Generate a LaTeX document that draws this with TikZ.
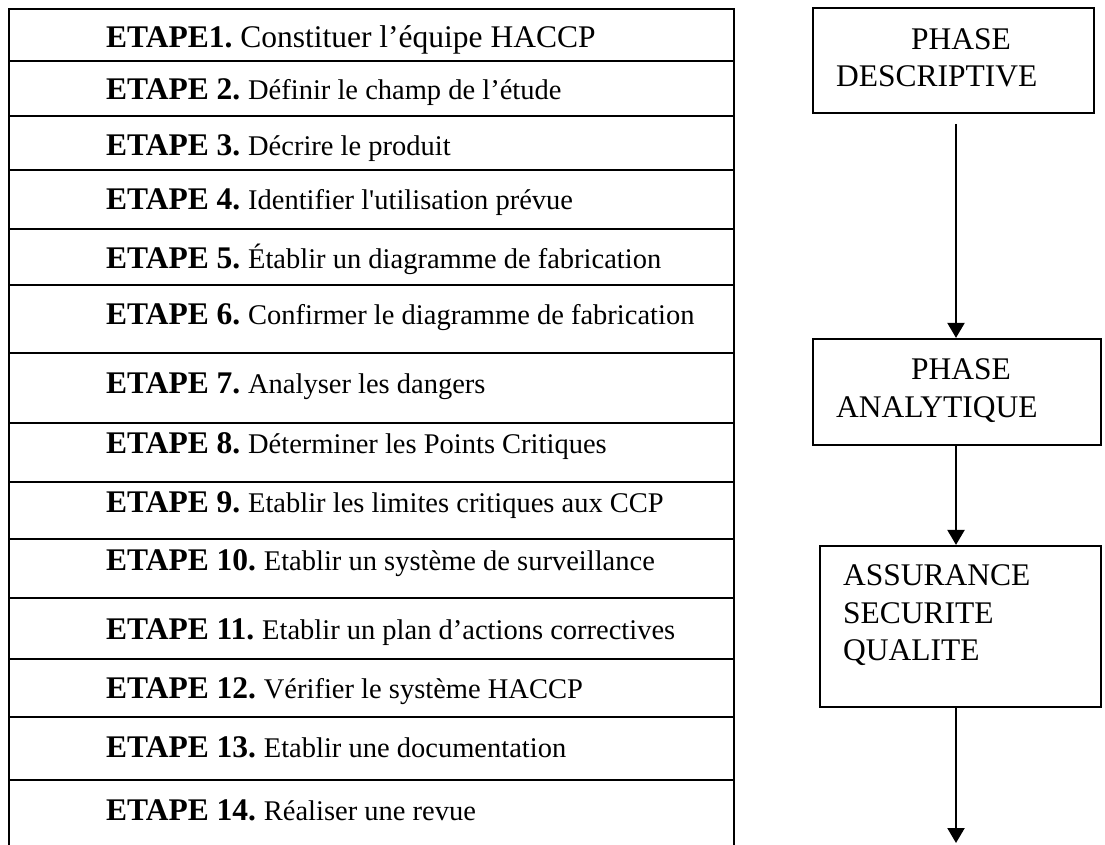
\documentclass[tikz,border=0pt]{standalone}
\usepackage{fontspec}
\newfontfamily\tms{Liberation Serif}
\usetikzlibrary{arrows.meta}
\newcommand\etpline[3]{{\fontsize{31.5}{36}\selectfont\bfseries #1\ }{\fontsize{#3}{34}\selectfont #2}}
\begin{document}
\begin{tikzpicture}[x=1pt,y=-1pt,line width=2.2pt,
  rowtext/.style={anchor=base west,inner sep=0pt,font=\tms},
  phasebox/.style={draw,line width=2.2pt,inner sep=0pt},
  phasetext/.style={anchor=base west,inner sep=0pt,font=\tms\fontsize{31.5}{37}\selectfont},
  arr/.style={line width=2.2pt,-{Triangle[width=17pt,length=15pt]}}]
\useasboundingbox (0,0) rectangle (1105,845);
% table
\draw (9,845) -- (9,9) -- (734,9) -- (734,845);
\foreach \yy in {61,116,170,229,285,353,423,482,539,598,659,717,780}
  \draw (9,\yy) -- (734,\yy);
\node[rowtext] (e1) at (105,48) {\etpline{ETAPE1.}{Constituer l’équipe HACCP}{31.5}};
\node[rowtext] (e2) at (105,100) {\etpline{ETAPE 2.}{Définir le champ de l’étude}{28.5}};
\node[rowtext] (e3) at (105,156) {\etpline{ETAPE 3.}{Décrire le produit}{28.5}};
\node[rowtext] (e4) at (105,210) {\etpline{ETAPE 4.}{Identifier l'utilisation prévue}{28.5}};
\node[rowtext] (e5) at (105,268) {\etpline{ETAPE 5.}{Établir un diagramme de fabrication}{28.5}};
\node[rowtext] (e6) at (105,324) {\etpline{ETAPE 6.}{Confirmer le diagramme de fabrication}{28.5}};
\node[rowtext] (e7) at (105,393) {\etpline{ETAPE 7.}{Analyser les dangers}{28.5}};
\node[rowtext] (e8) at (105,453) {\etpline{ETAPE 8.}{Déterminer les Points Critiques}{28.5}};
\node[rowtext] (e9) at (105,512) {\etpline{ETAPE 9.}{Etablir les limites critiques aux CCP}{28.5}};
\node[rowtext] (e10) at (105,570) {\etpline{ETAPE 10.}{Etablir un système de surveillance}{28.5}};
\node[rowtext] (e11) at (105,639) {\etpline{ETAPE 11.}{Etablir un plan d’actions correctives}{28.5}};
\node[rowtext] (e12) at (105,698) {\etpline{ETAPE 12.}{Vérifier le système HACCP}{28.5}};
\node[rowtext] (e13) at (105,757) {\etpline{ETAPE 13.}{Etablir une documentation}{28.5}};
\node[rowtext] (e14) at (105,820) {\etpline{ETAPE 14.}{Réaliser une revue}{28.5}};
% phase boxes
\node[phasebox,minimum width=281pt,minimum height=105pt] (p1) at (953.5,60.5) {};
\node[phasebox,minimum width=288pt,minimum height=106pt] (p2) at (957,392) {};
\node[phasebox,minimum width=281pt,minimum height=161pt] (p3) at (960.5,626.5) {};
\node[phasetext] (t1a) at (910,50) {PHASE};
\node[phasetext] (t1b) at (835,87) {DESCRIPTIVE};
\node[phasetext] (t2a) at (910,379) {PHASE};
\node[phasetext] (t2b) at (835,417) {ANALYTIQUE};
\node[phasetext] (t3a) at (842,585) {ASSURANCE};
\node[phasetext] (t3b) at (842,623) {SECURITE};
\node[phasetext] (t3c) at (842,660) {QUALITE};
% connectors
\coordinate (a1) at (956,124);
\coordinate (a3) at (956,843);
\draw[arr] (a1) -- (a1 |- p2.north);
\draw[arr] (p2.south -| a1) -- (a1 |- p3.north);
\draw[arr] (p3.south -| a1) -- (a3);
\end{tikzpicture}
\end{document}
